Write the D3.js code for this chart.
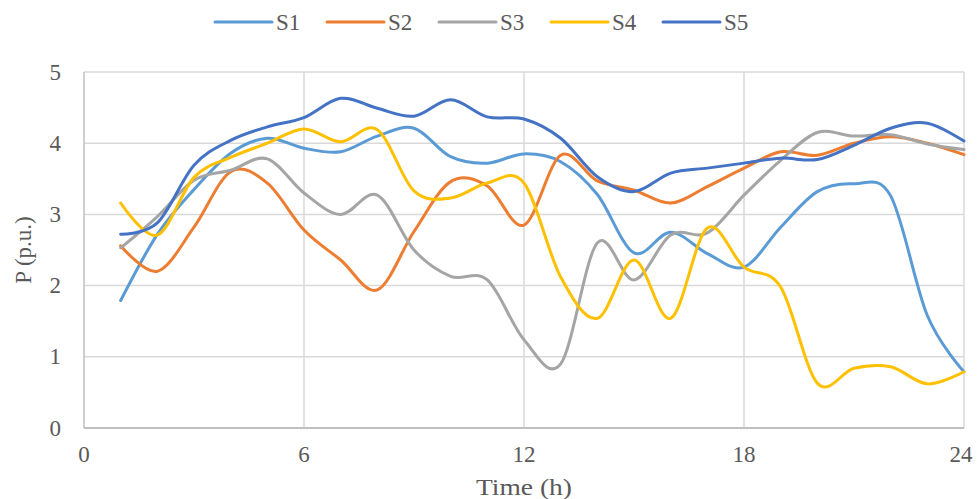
<!DOCTYPE html>
<html>
<head>
<meta charset="utf-8">
<script src="https://cdn.jsdelivr.net/npm/d3@7"></script>
<style>
  body { margin: 0; background: #fff; }
  text { font-family: "Liberation Serif", "Times New Roman", serif; fill: #595959; }
</style>
</head>
<body>
<div id="chart"></div>
<script>
// hours 1..24
const hours = d3.range(1, 25);
const seriesNames = ['S1', 'S2', 'S3', 'S4', 'S5'];
const colors = ['#5B9BD5', '#ED7D31', '#A5A5A5', '#FFC000', '#4472C4'];
const xTicks = [0, 6, 12, 18, 24];
const yTicks = [0, 1, 2, 3, 4, 5];

const s1 = [1.79, 2.72, 3.35, 3.86, 4.07, 3.93, 3.88, 4.10, 4.21, 3.81, 3.72, 3.85, 3.74, 3.28, 2.46, 2.75, 2.45, 2.26, 2.82, 3.32, 3.43, 3.26, 1.58, 0.79];
const s2 = [2.56, 2.20, 2.82, 3.60, 3.44, 2.78, 2.36, 1.94, 2.76, 3.46, 3.40, 2.85, 3.83, 3.47, 3.34, 3.16, 3.39, 3.65, 3.88, 3.83, 4.00, 4.09, 4.00, 3.84];
const s3 = [2.53, 2.97, 3.48, 3.62, 3.78, 3.30, 3.00, 3.27, 2.50, 2.13, 2.08, 1.24, 0.90, 2.60, 2.08, 2.71, 2.74, 3.27, 3.76, 4.15, 4.10, 4.12, 3.99, 3.91];
const s4 = [3.16, 2.71, 3.52, 3.80, 4.00, 4.20, 4.02, 4.19, 3.33, 3.23, 3.44, 3.44, 2.12, 1.54, 2.36, 1.54, 2.81, 2.26, 1.98, 0.63, 0.84, 0.86, 0.62, 0.79];
const s5 = [2.72, 2.88, 3.69, 4.04, 4.23, 4.36, 4.63, 4.49, 4.38, 4.61, 4.37, 4.34, 4.07, 3.53, 3.32, 3.58, 3.65, 3.72, 3.79, 3.77, 3.97, 4.21, 4.28, 4.03];
const allSeries = [s1, s2, s3, s4, s5];

const width = 978, height = 499;
const margin = { top: 72, right: 14, bottom: 71, left: 84 };

const svg = d3.select('#chart').append('svg')
  .attr('width', width)
  .attr('height', height);

const x = d3.scaleLinear().domain([0, 24]).range([margin.left, width - margin.right]);
const y = d3.scaleLinear().domain([0, 5]).range([height - margin.bottom, margin.top]);

// gridlines
svg.append('g').selectAll('line')
  .data(yTicks.slice(1))
  .enter().append('line')
    .attr('x1', x(0)).attr('x2', x(24))
    .attr('y1', d => y(d)).attr('y2', d => y(d))
    .attr('stroke', '#d9d9d9').attr('stroke-width', 1.5);

svg.append('g').selectAll('line')
  .data(xTicks)
  .enter().append('line')
    .attr('x1', d => x(d)).attr('x2', d => x(d))
    .attr('y1', y(0)).attr('y2', y(5))
    .attr('stroke', d => d === 0 ? '#bfbfbf' : '#d9d9d9').attr('stroke-width', 1.5);

// bottom axis line
svg.append('line')
  .attr('x1', x(0)).attr('x2', x(24))
  .attr('y1', y(0)).attr('y2', y(0))
  .attr('stroke', '#bfbfbf').attr('stroke-width', 2);

// tick labels
svg.append('g').selectAll('text')
  .data(yTicks)
  .enter().append('text')
    .attr('x', 61)
    .attr('y', d => y(d) + 7.5)
    .attr('text-anchor', 'end')
    .style('font-size', '23px')
    .text(d => d);

svg.append('g').selectAll('text')
  .data(xTicks)
  .enter().append('text')
    .attr('x', d => d === 24 ? x(d) - 3 : x(d))
    .attr('y', 462)
    .attr('text-anchor', 'middle')
    .style('font-size', '23px')
    .text(d => d);

// axis titles
svg.append('text')
  .attr('x', x(12))
  .attr('y', 495)
  .attr('text-anchor', 'middle')
  .style('font-size', '24px')
  .attr('textLength', 96)
  .attr('lengthAdjust', 'spacingAndGlyphs')
  .text('Time (h)');

svg.append('text')
  .attr('transform', 'translate(31,' + y(2.5) + ') rotate(-90)')
  .attr('text-anchor', 'middle')
  .style('font-size', '23px')
  .text('P (p.u.)');

// lines
const line = d3.line()
  .x((d, i) => x(hours[i]))
  .y(d => y(d))
  .curve(d3.curveCatmullRom.alpha(0));

svg.append('g').selectAll('path')
  .data(allSeries)
  .enter().append('path')
    .attr('d', line)
    .attr('fill', 'none')
    .attr('stroke', (d, i) => colors[i])
    .attr('stroke-width', 3)
    .attr('stroke-linecap', 'round');

// legend
const legend = svg.append('g').selectAll('g')
  .data(seriesNames)
  .enter().append('g')
    .attr('transform', (d, i) => 'translate(' + (215 + i * 112) + ',22)');

legend.append('line')
  .attr('x1', 0).attr('x2', 57)
  .attr('y1', 0).attr('y2', 0)
  .attr('stroke', (d, i) => colors[i])
  .attr('stroke-width', 3)
  .attr('stroke-linecap', 'round');

legend.append('text')
  .attr('x', 61)
  .attr('y', 8)
  .style('font-size', '23px')
  .text(d => d);
</script>
</body>
</html>
